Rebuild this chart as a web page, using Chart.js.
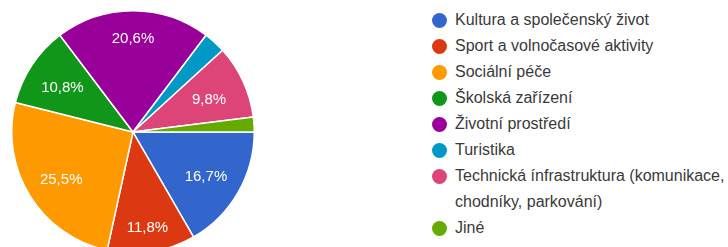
<!DOCTYPE html>
<html>
<head>
<meta charset="utf-8">
<script src="https://cdn.jsdelivr.net/npm/chart.js@4.4.1/dist/chart.umd.min.js"></script>
<style>
  html, body { margin:0; padding:0; width:728px; height:247px; overflow:hidden; background:#fff; }
  #pieWrap { position:absolute; left:11px; top:10px; width:244px; height:244px; }
  #legend { position:absolute; left:432px; top:7px; font-family: "Liberation Sans", Arial, sans-serif; font-size:16px; color:#3a3a3a; }
  .item { display:flex; align-items:flex-start; line-height:26px; }
  .dot { width:15px; height:15px; border-radius:50%; margin-top:6px; margin-right:8px; flex:none; }
  .txt { width:273px; }
</style>
</head>
<body>
<div id="pieWrap"><canvas id="c" width="244" height="244"></canvas></div>
<div id="legend"></div>
<script>
const categories = [
  "Kultura a společenský život",
  "Sport a volnočasové aktivity",
  "Sociální péče",
  "Školská zařízení",
  "Životní prostředí",
  "Turistika",
  "Technická ínfrastruktura (komunikace, chodníky, parkování)",
  "Jiné"
];
const responses = [17, 12, 26, 11, 21, 3, 10, 2];
const percentLabels = ["16,7%", "11,8%", "25,5%", "10,8%", "20,6%", "", "9,8%", ""];
const colors = ["#3366cc", "#dc3912", "#ff9900", "#109618", "#990099", "#0099c6", "#dd4477", "#66aa00"];

const labelPlugin = {
  id: 'sliceLabels',
  afterDatasetsDraw(chart) {
    const ctx = chart.ctx;
    const meta = chart.getDatasetMeta(0);
    ctx.save();
    ctx.fillStyle = '#ffffff';
    ctx.font = '15px "Liberation Sans", Arial, sans-serif';
    ctx.textAlign = 'center';
    ctx.textBaseline = 'middle';
    meta.data.forEach((arc, i) => {
      const txt = percentLabels[i];
      if (!txt) return;
      const p = arc.getProps(['x','y','startAngle','endAngle','outerRadius'], true);
      const mid = (p.startAngle + p.endAngle) / 2;
      const d = p.outerRadius * (0.79 - 0.11 * Math.abs(Math.cos(mid)));
      ctx.fillText(txt, p.x + Math.cos(mid) * d, p.y + Math.sin(mid) * d + 3);
    });
    ctx.restore();
  }
};

new Chart(document.getElementById('c'), {
  type: 'pie',
  data: {
    labels: categories,
    datasets: [{
      data: responses,
      backgroundColor: colors,
      borderColor: '#ffffff',
      borderWidth: 1.5
    }]
  },
  options: {
    responsive: false,
    animation: false,
    rotation: 90,
    plugins: { legend: { display: false }, tooltip: { enabled: false } },
    layout: { padding: 0 }
  },
  plugins: [labelPlugin]
});

const legendEl = document.getElementById('legend');
categories.forEach((name, i) => {
  const item = document.createElement('div');
  item.className = 'item';
  const dot = document.createElement('span');
  dot.className = 'dot';
  dot.style.background = colors[i];
  const t = document.createElement('span');
  t.className = 'txt';
  t.textContent = name;
  item.appendChild(dot);
  item.appendChild(t);
  legendEl.appendChild(item);
});
</script>
</body>
</html>
